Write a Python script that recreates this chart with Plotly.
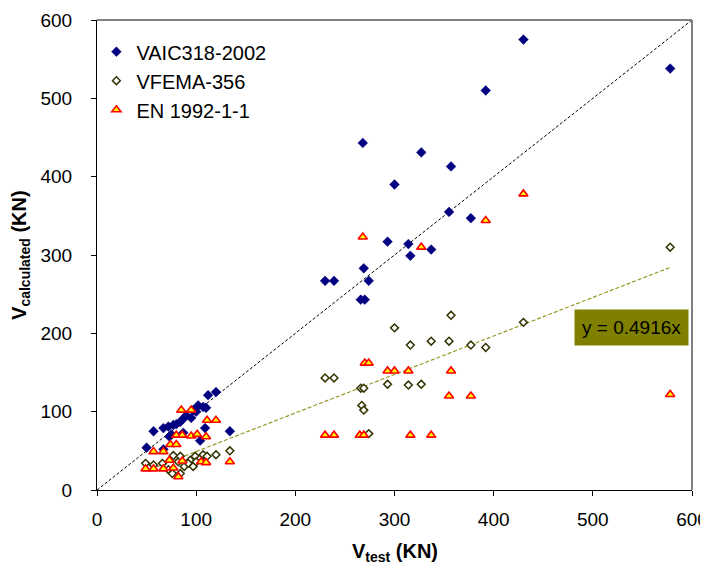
import plotly.graph_objects as go

# ---- data ----
aci_x = [50, 57, 67, 67, 72, 73, 77, 80, 84, 87, 87, 95, 97, 102, 104, 107, 109, 110, 112, 120, 134, 75, 90, 100,
         230, 239, 266, 268, 269, 270, 274, 293, 300, 314, 316, 327, 337, 355, 357, 377, 392, 430, 578]
aci_y = [54, 75, 79, 52, 81, 68, 83, 84, 87, 91, 73, 92, 102, 108, 63, 106, 79, 105, 121, 125, 75, 71, 95, 100,
         267, 267, 243, 443, 283, 243, 267, 317, 390, 314, 299, 431, 307, 355, 413, 347, 510, 575, 538]

fema_x = [49, 57, 66, 72, 76, 84, 77, 82, 84, 88, 94, 99, 104, 107, 111, 120, 134, 92, 97, 100,
          230, 239, 266, 267, 269, 269, 274, 293, 300, 314, 316, 327, 337, 355, 357, 377, 392, 430, 578]
fema_y = [34, 32, 34, 26, 21, 21, 44, 36, 43, 30, 38, 43, 40, 45, 43, 45, 50, 34, 30, 36,
          143, 143, 130, 108, 102, 130, 72, 135, 207, 134, 185, 135, 190, 190, 223, 185, 182, 214, 310]

en_x = [49, 57, 67, 77, 82, 57, 67, 74, 80, 73, 86, 105, 110, 134, 80, 86, 95, 101, 110, 85, 95, 111, 120,
        230, 239, 265, 269, 268, 270, 274, 293, 300, 314, 316, 327, 337, 355, 357, 377, 392, 430, 578]
en_y = [27, 27, 27, 28, 17, 49, 49, 58, 58, 38, 37, 36, 35, 36, 70, 70, 69, 71, 68, 102, 102, 89, 89,
        70, 70, 70, 70, 323, 162, 162, 152, 152, 152, 70, 310, 70, 120, 152, 120, 344, 378, 122]

trend_slope = 0.4916
trend_x = [min(fema_x), max(fema_x)]
trend_y = [trend_slope * v for v in trend_x]
ref_x = [0, 600]
ref_y = [0, 600]

series_names = ["VAIC318-2002", "VFEMA-356", "EN 1992-1-1"]
x_ticks = [0, 100, 200, 300, 400, 500, 600]
y_ticks = [0, 100, 200, 300, 400, 500, 600]

fig = go.Figure()
fig.add_trace(go.Scatter(x=ref_x, y=ref_y, mode="lines", showlegend=False,
                         line=dict(color="black", width=1, dash="3px,2px"), hoverinfo="skip"))
fig.add_trace(go.Scatter(x=trend_x, y=trend_y, mode="lines", showlegend=False,
                         line=dict(color="#9a9a2a", width=1.2, dash="4px,2px"), hoverinfo="skip"))
fig.add_trace(go.Scatter(x=aci_x, y=aci_y, mode="markers", name=series_names[0],
                         marker=dict(symbol="diamond", size=7.5, color="#000080",
                                     line=dict(color="#000080", width=0.5))))
fig.add_trace(go.Scatter(x=fema_x, y=fema_y, mode="markers", name=series_names[1],
                         marker=dict(symbol="diamond", size=6, color="white",
                                     line=dict(color="#333300", width=1.5))))
fig.add_trace(go.Scatter(x=en_x, y=en_y, mode="markers", name=series_names[2],
                         marker=dict(symbol="triangle-up", size=8, color="#ffff00",
                                     line=dict(color="#ff0000", width=1.6))))

font_family = "Liberation Sans, Arial, sans-serif"
fig.update_layout(
    width=700, height=559,
    margin=dict(l=89, r=16, t=12, b=77),
    paper_bgcolor="white", plot_bgcolor="white",
    font=dict(family=font_family, size=19, color="black"),
    showlegend=True,
    legend=dict(x=-0.001, y=0.974, xanchor="left", yanchor="top", bgcolor="rgba(0,0,0,0)",
                font=dict(size=20), itemsizing="trace", tracegroupgap=0),
    xaxis=dict(range=[0, 600], tickvals=x_ticks, showgrid=False, zeroline=False,
               showline=True, linecolor="black", linewidth=1, automargin=False,
               ticks="outside", ticklen=5, tickcolor="black", ticklabelstandoff=7),
    yaxis=dict(range=[0, 600], tickvals=y_ticks, showgrid=False, zeroline=False,
               showline=True, linecolor="black", linewidth=1, automargin=False,
               ticks="outside", ticklen=5, tickcolor="black", ticklabelstandoff=15),
    shapes=[
        dict(type="line", xref="paper", yref="paper", x0=0, x1=1, y0=1, y1=1,
             line=dict(color="#808080", width=2)),
        dict(type="line", xref="paper", yref="paper", x0=1, x1=1, y0=0, y1=1,
             line=dict(color="#808080", width=2)),
    ],
    annotations=[
        dict(x=539, y=207, xref="x", yref="y", text="y = 0.4916x", showarrow=False,
             font=dict(size=19, color="black"), bgcolor="#808000", borderpad=7),
        dict(x=0.5, y=-0.134, xref="paper", yref="paper", text="<b>V<sub>test</sub> (KN)</b>",
             showarrow=False, font=dict(size=20), xanchor="center", yanchor="middle"),
        dict(x=-0.1295, y=0.5, xref="paper", yref="paper", text="<b>V<sub>calculated</sub> (KN)</b>",
             showarrow=False, font=dict(size=20), textangle=-90, xanchor="center", yanchor="middle"),
    ],
)

fig.write_html("out.html")
